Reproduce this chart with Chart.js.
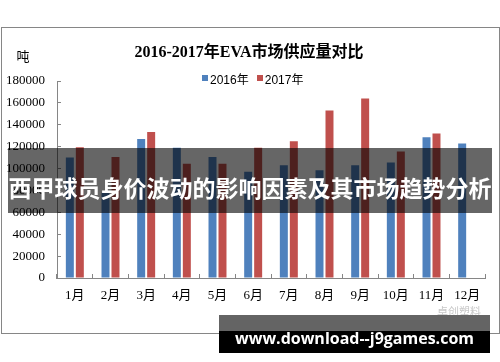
<!DOCTYPE html>
<html><head><meta charset="utf-8">
<script src="https://cdn.jsdelivr.net/npm/chart.js@4.4.0/dist/chart.umd.min.js"></script>
<style>
html,body{margin:0;padding:0;background:#fff;}
#wrap{position:relative;width:500px;height:362px;overflow:hidden;background:#fff;}
.frame{position:absolute;left:1px;top:27px;width:497px;height:305px;border:1px solid #868686;}
#c{position:absolute;left:0;top:0;}
.title{position:absolute;left:0;width:498px;top:38px;height:20px;line-height:20px;text-align:center;font:bold 16px "Liberation Serif","Noto Sans CJK SC",serif;color:#000;}
.unit{position:absolute;left:14px;top:46px;width:18px;height:18px;line-height:18px;text-align:center;font:13px "Noto Sans CJK SC",sans-serif;color:#000;}
#legend{position:absolute;left:202px;top:70px;height:16px;display:flex;align-items:center;font:12px "Liberation Sans","Noto Sans CJK SC",sans-serif;color:#000;}
#legend .it{display:flex;align-items:center;margin-right:8px;}
#legend .sw{width:6px;height:6px;margin-right:2px;}
.banner{position:absolute;left:8px;top:148px;width:484px;height:65px;background:rgba(0,0,0,0.6);}
.btext{position:absolute;left:0;width:500px;top:170px;height:30px;line-height:30px;text-align:center;font:bold 23px "Noto Sans CJK SC",sans-serif;color:#fff;white-space:nowrap;}
.wm1{position:absolute;left:219px;top:315px;width:271px;height:16px;background:#646464;}
.wm2{position:absolute;left:219px;top:331px;width:271px;height:22px;background:#000;}
.wmt{position:absolute;left:219px;top:327px;width:271px;height:22px;line-height:22px;text-align:center;font:bold 16px "Open Sans","DejaVu Sans",sans-serif;color:#fff;white-space:nowrap;}
.logo{position:absolute;left:437px;top:303px;font:11px "Noto Sans CJK SC",sans-serif;color:#c8c8c8;}
</style></head>
<body>
<div id="wrap">
  <div class="frame"></div>
  <canvas id="c" width="500" height="362"></canvas>
  <div class="title">2016-2017年EVA市场供应量对比</div>
  <div class="unit">吨</div>
  <div id="legend"></div>
  <div class="logo">卓创塑料</div>
  <div class="banner"></div>
  <div class="btext">西甲球员身价波动的影响因素及其市场趋势分析</div>
  <div class="wm1"></div>
  <div class="wm2"></div>
  <div class="wmt">www.download--j9games.com</div>
</div>
<script>
const months = ['1月','2月','3月','4月','5月','6月','7月','8月','9月','10月','11月','12月'];
const seriesNames = ['2016年','2017年'];
const seriesColors = ['#4F81BD','#C0504D'];
const supply2016 = [110000, 78000, 127000, 119000, 110500, 97000, 103000, 98500, 103000, 105500, 128500, 123000];
const supply2017 = [119500, 110500, 133500, 104500, 104500, 119000, 125000, 153000, 164000, 115500, 132000, null];
const yMin = 0, yMax = 180000, yStep = 20000;

const leg = document.getElementById('legend');
seriesNames.forEach((n,i)=>{
  const it = document.createElement('div'); it.className='it';
  const sw = document.createElement('div'); sw.className='sw'; sw.style.background=seriesColors[i];
  const tx = document.createElement('span'); tx.textContent=n;
  it.appendChild(sw); it.appendChild(tx); leg.appendChild(it);
});

const tickFont = {family:'"Liberation Serif","Noto Sans CJK SC",serif', size:13};
new Chart(document.getElementById('c'), {
  type:'bar',
  data:{
    labels: months,
    datasets:[
      {label:seriesNames[0], data:supply2016, backgroundColor:seriesColors[0], borderWidth:0, categoryPercentage:0.56, barPercentage:0.8},
      {label:seriesNames[1], data:supply2017, backgroundColor:seriesColors[1], borderWidth:0, categoryPercentage:0.56, barPercentage:0.8}
    ]
  },
  options:{
    responsive:false, animation:false,
    layout:{padding:{top:81,right:15,bottom:44,left:0}},
    plugins:{legend:{display:false}, title:{display:false}, tooltip:{enabled:false}},
    scales:{
      x:{
        grid:{display:true, drawOnChartArea:false, drawTicks:true, tickLength:-4, color:'#868686', offset:true},
        border:{color:'#868686'},
        ticks:{font:tickFont, color:'#000', padding:14, maxRotation:0, autoSkip:false},
        afterFit(s){ s.height = 40; }
      },
      y:{
        min:yMin, max:yMax,
        grid:{display:true, drawOnChartArea:false, drawTicks:true, tickLength:-4, color:'#868686'},
        border:{color:'#868686'},
        ticks:{stepSize:yStep, font:tickFont, color:'#000', padding:16, callback:(v)=>String(v)},
        afterFit(s){ s.width = 57; }
      }
    }
  }
});
</script>
</body></html>
